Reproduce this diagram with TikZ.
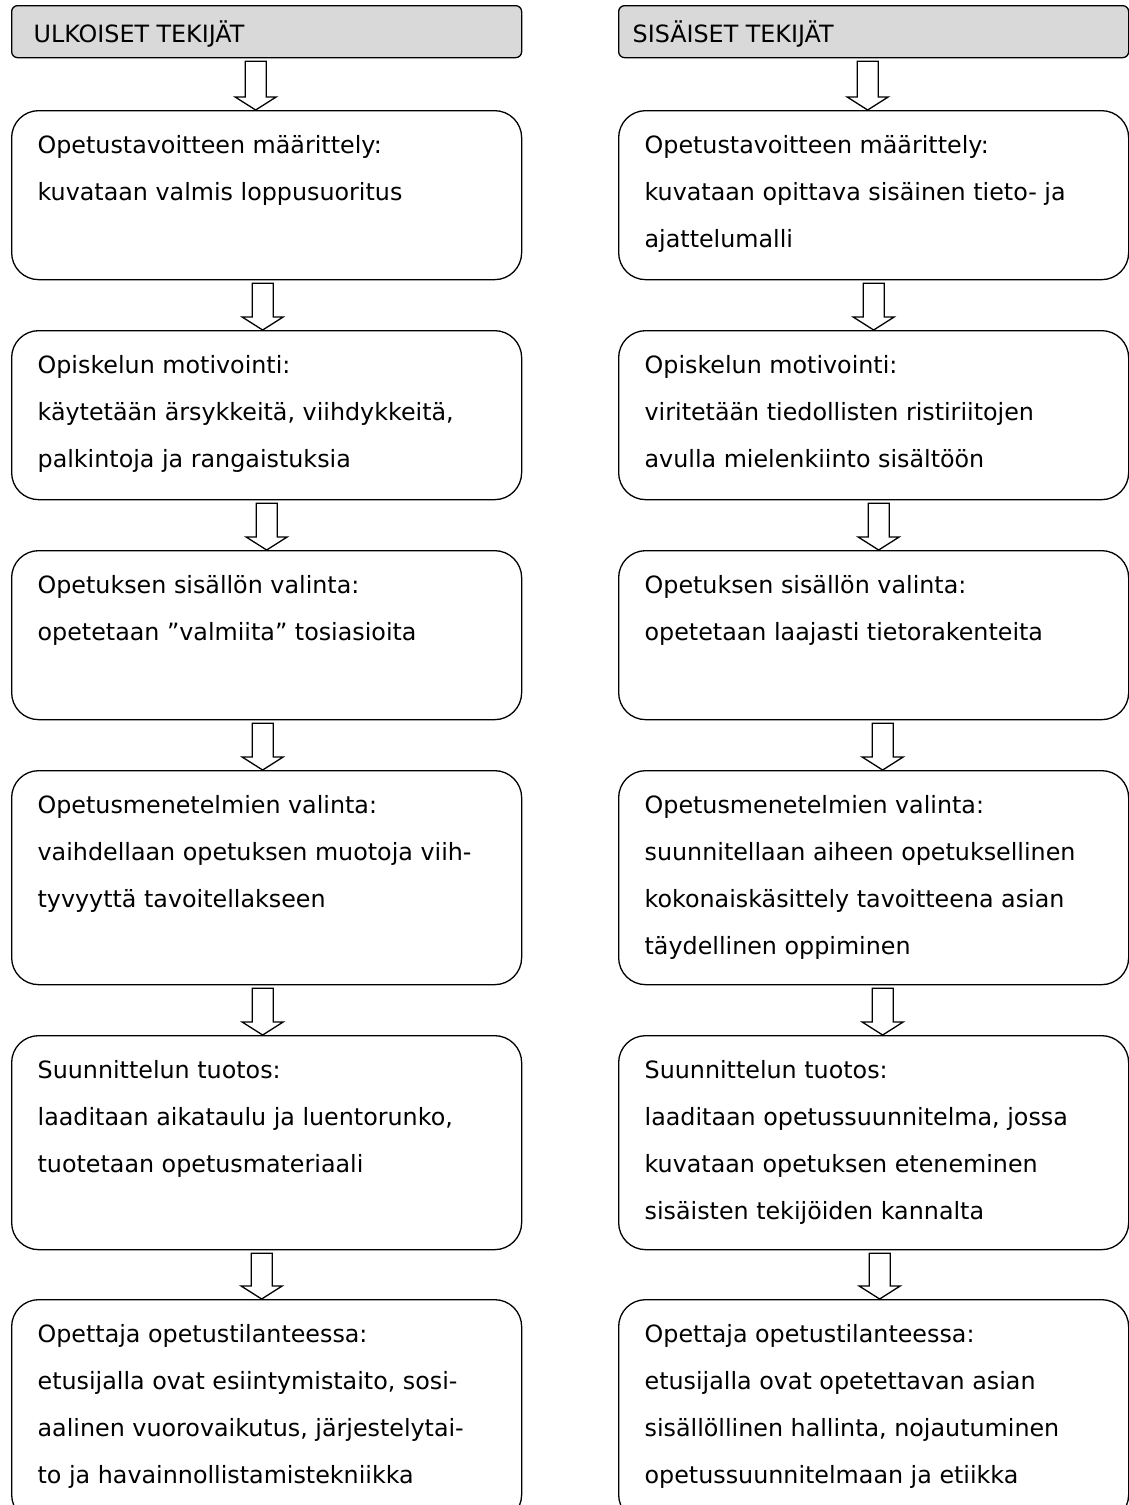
\documentclass[tikz,border=0pt]{standalone}
\usepackage{fontspec}
\setmainfont{DejaVu Sans}
\usetikzlibrary{calc}
\definecolor{headgray}{HTML}{D9D9D9}

\newcommand{\stagetext}[2]{\parbox[c][#1][t]{458pt}{\raggedright\rule{0pt}{43pt}#2}}
\newcommand{\headtext}[2]{\parbox[c][52pt][t]{#1}{\rule{0pt}{37pt}#2}}
% hollow block arrow: from node, to node, x offset
\newcommand{\hollowarrow}[3]{%
  \draw[hollow] ($(#1.south)+(#3-10.5,3)$) -- ($(#2.north)+(#3-10.5,-13)$)
    -- ++(-10,0) -- ($(#2.north)+(#3,0)$) -- ($(#2.north)+(#3+20.5,-13)$)
    -- ++(-10,0) -- ($(#1.south)+(#3+10.5,3)$) -- cycle;}

\begin{document}
\begin{tikzpicture}[x=1pt, y=-1pt,
    stage/.style={draw, line width=1.3pt, rounded corners=27pt, inner xsep=26pt,
      inner ysep=0pt, anchor=north west, font=\fontsize{23.8pt}{47pt}\selectfont},
    head/.style={stage, rounded corners=6pt, fill=headgray, inner xsep=22pt},
    hollow/.style={draw, line width=1.3pt, fill=white}]
  \useasboundingbox (0,0) rectangle (1129,1505);
  \clip (0,0) rectangle (1129,1505);

  % left column
  \node[head] (lh) at (11,5) {\headtext{466pt}{ULKOISET TEKIJÄT}};
  \node[stage] (l1) at (11,110) {\stagetext{169pt}{Opetustavoitteen määrittely:\\
    kuvataan valmis loppusuoritus}};
  \node[stage] (l2) at (11,330) {\stagetext{169pt}{Opiskelun motivointi:\\
    käytetään ärsykkeitä, viihdykkeitä,\\palkintoja ja rangaistuksia}};
  \node[stage] (l3) at (11,550) {\stagetext{169pt}{Opetuksen sisällön valinta:\\
    opetetaan ”valmiita” tosiasioita}};
  \node[stage] (l4) at (11,770) {\stagetext{214pt}{Opetusmenetelmien valinta:\\
    vaihdellaan opetuksen muotoja viih-\\tyvyyttä tavoitellakseen}};
  \node[stage] (l5) at (11,1035) {\stagetext{214pt}{Suunnittelun tuotos:\\
    laaditaan aikataulu ja luentorunko,\\tuotetaan opetusmateriaali}};
  \node[stage] (l6) at (11,1299) {\stagetext{222pt}{Opettaja opetustilanteessa:\\
    etusijalla ovat esiintymistaito, sosi-\\aalinen vuorovaikutus, järjestelytai-\\
    to ja havainnollistamistekniikka}};

  % right column
  \node[head, inner xsep=14pt] (rh) at (618,5) {\headtext{482pt}{SISÄISET TEKIJÄT}};
  \node[stage] (r1) at (618,110) {\stagetext{169pt}{Opetustavoitteen määrittely:\\
    kuvataan opittava sisäinen tieto- ja\\ajattelumalli}};
  \node[stage] (r2) at (618,330) {\stagetext{169pt}{Opiskelun motivointi:\\
    viritetään tiedollisten ristiriitojen\\avulla mielenkiinto sisältöön}};
  \node[stage] (r3) at (618,550) {\stagetext{169pt}{Opetuksen sisällön valinta:\\
    opetetaan laajasti tietorakenteita}};
  \node[stage] (r4) at (618,770) {\stagetext{214pt}{Opetusmenetelmien valinta:\\
    suunnitellaan aiheen opetuksellinen\\kokonaiskäsittely tavoitteena asian\\
    täydellinen oppiminen}};
  \node[stage] (r5) at (618,1035) {\stagetext{214pt}{Suunnittelun tuotos:\\
    laaditaan opetussuunnitelma, jossa\\kuvataan opetuksen eteneminen\\
    sisäisten tekijöiden kannalta}};
  \node[stage] (r6) at (618,1299) {\stagetext{222pt}{Opettaja opetustilanteessa:\\
    etusijalla ovat opetettavan asian\\sisällöllinen hallinta, nojautuminen\\
    opetussuunnitelmaan ja etiikka}};

  \hollowarrow{lh}{l1}{-11}
  \hollowarrow{l1}{l2}{-4}
  \hollowarrow{l2}{l3}{0}
  \hollowarrow{l3}{l4}{-4}
  \hollowarrow{l4}{l5}{-4}
  \hollowarrow{l5}{l6}{-5}

  \hollowarrow{rh}{r1}{-6}
  \hollowarrow{r1}{r2}{0}
  \hollowarrow{r2}{r3}{5}
  \hollowarrow{r3}{r4}{9}
  \hollowarrow{r4}{r5}{9}
  \hollowarrow{r5}{r6}{6}
\end{tikzpicture}
\end{document}
